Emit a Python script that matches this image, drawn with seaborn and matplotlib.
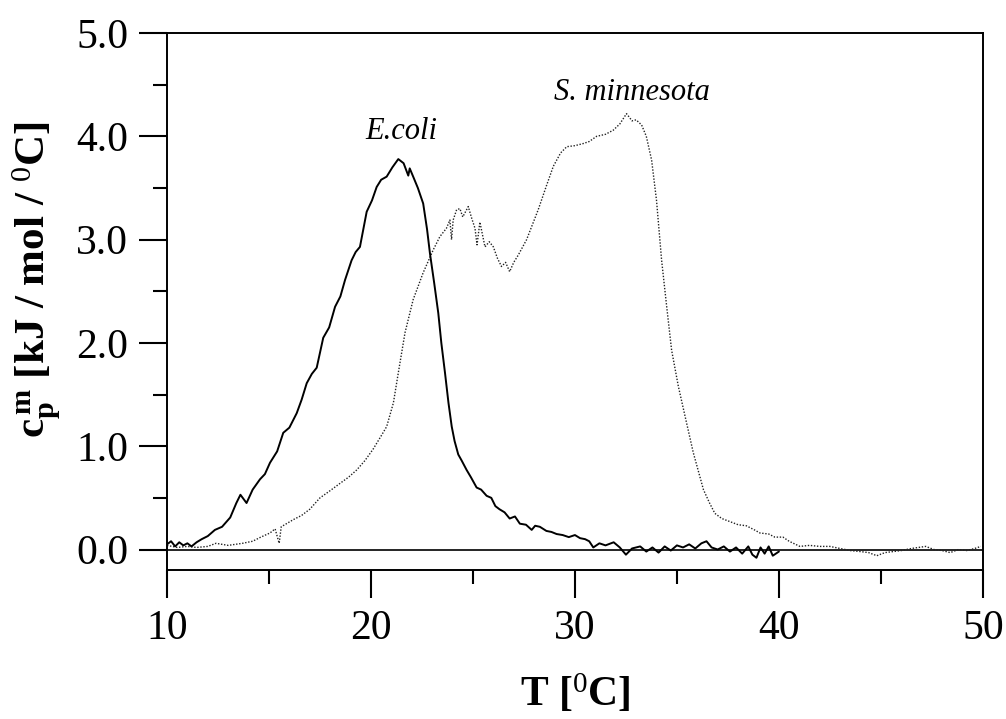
import matplotlib
matplotlib.use("Agg")
import matplotlib.pyplot as plt
import seaborn as sns
import pandas as pd
from matplotlib.ticker import MultipleLocator

# ---- data ----
ecoli_T = [10.0, 10.2, 10.4, 10.6, 10.8, 11.0, 11.2, 11.45, 11.7, 12.0, 12.35, 12.7, 13.1, 13.4, 13.6,
           13.9, 14.2, 14.56, 14.8, 15.05, 15.4, 15.7, 16.0, 16.36, 16.6, 16.85, 17.1, 17.34, 17.66,
           17.95, 18.24, 18.5, 18.73, 19.05, 19.25, 19.46, 19.79, 20.05, 20.28, 20.5, 20.77, 21.05,
           21.34, 21.6, 21.83, 21.9, 22.07, 22.3, 22.56, 22.75, 22.89, 23.1, 23.3, 23.45, 23.63, 23.8,
           23.96, 24.1, 24.28, 24.45, 24.69, 24.9, 25.18, 25.4, 25.67, 25.9, 26.1, 26.3, 26.55, 26.8,
           27.06, 27.3, 27.6, 27.88, 28.05, 28.28, 28.6, 28.85, 29.1, 29.4, 29.7, 30.0, 30.25, 30.5,
           30.7, 30.9, 31.2, 31.5, 31.9, 32.2, 32.5, 32.8, 33.2, 33.5, 33.8, 34.1, 34.4, 34.7, 35.0,
           35.3, 35.6, 35.9, 36.2, 36.45, 36.7, 37.0, 37.3, 37.6, 37.9, 38.2, 38.5, 38.7, 38.9, 39.1,
           39.3, 39.5, 39.7, 40.0]
ecoli_cp = [0.05, 0.08, 0.03, 0.07, 0.04, 0.06, 0.03, 0.07, 0.10, 0.13, 0.19, 0.22, 0.31, 0.45, 0.53,
            0.45, 0.58, 0.68, 0.73, 0.84, 0.95, 1.13, 1.18, 1.32, 1.45, 1.61, 1.70, 1.76, 2.05,
            2.15, 2.35, 2.45, 2.61, 2.80, 2.88, 2.93, 3.27, 3.38, 3.51, 3.58, 3.61, 3.70,
            3.78, 3.74, 3.62, 3.69, 3.61, 3.50, 3.35, 3.10, 2.87, 2.58, 2.29, 2.00, 1.71, 1.42,
            1.19, 1.05, 0.92, 0.86, 0.77, 0.70, 0.60, 0.58, 0.52, 0.50, 0.42, 0.39, 0.36, 0.30,
            0.32, 0.25, 0.24, 0.19, 0.23, 0.22, 0.18, 0.17, 0.15, 0.14, 0.12, 0.14, 0.11, 0.10,
            0.08, 0.02, 0.06, 0.04, 0.07, 0.02, -0.05, 0.01, 0.03, -0.02, 0.02, -0.03, 0.03, -0.01, 0.04,
            0.02, 0.05, 0.01, 0.06, 0.08, 0.02, 0.00, 0.03, -0.02, 0.02, -0.04, 0.03, -0.05, -0.08, 0.02,
            -0.04, 0.03, -0.06, -0.02]

smin_T = [10.0, 10.5, 11.0, 11.45, 12.0, 12.4, 13.0, 13.7, 14.2, 14.6, 15.05, 15.3, 15.5, 15.6, 16.2,
          16.6, 17.0, 17.5, 18.0, 18.48, 18.9, 19.3, 19.7, 20.1, 20.5, 20.77, 21.1, 21.34, 21.67,
          22.07, 22.56, 23.05, 23.38, 23.7, 23.87, 23.95, 24.03, 24.2, 24.36, 24.5, 24.77, 24.95,
          25.1, 25.2, 25.34, 25.59, 25.8, 26.0, 26.2, 26.4, 26.6, 26.8, 27.0, 27.22, 27.63, 28.2,
          28.6, 28.94, 29.3, 29.6, 30.0, 30.4, 30.7, 31.06, 31.5, 31.88, 32.2, 32.53, 32.8, 33.0,
          33.27, 33.5, 33.76, 34.0, 34.25, 34.5, 34.74, 35.07, 35.4, 35.8, 36.3, 36.6, 36.86, 37.2,
          37.6, 38.0, 38.4, 38.8, 39.07, 39.5, 39.8, 40.2, 40.5, 41.03, 41.5, 42.0, 42.5, 43.0,
          43.5, 44.0, 44.4, 44.8, 45.2, 45.6, 46.0, 46.5, 47.2, 47.6, 48.0, 48.4, 48.8, 49.2,
          49.6, 49.9]
smin_cp = [0.04, 0.02, 0.03, 0.02, 0.03, 0.06, 0.04, 0.06, 0.08, 0.12, 0.16, 0.20, 0.06, 0.22, 0.29,
           0.33, 0.39, 0.50, 0.57, 0.64, 0.70, 0.77, 0.86, 0.97, 1.10, 1.19, 1.42, 1.71, 2.10,
           2.42, 2.68, 2.90, 3.03, 3.11, 3.19, 3.00, 3.19, 3.29, 3.30, 3.22, 3.32, 3.20,
           3.11, 2.95, 3.17, 2.93, 2.98, 2.93, 2.82, 2.74, 2.78, 2.69, 2.78, 2.85, 3.00, 3.29,
           3.52, 3.71, 3.84, 3.90, 3.91, 3.93, 3.95, 4.00, 4.02, 4.06, 4.12, 4.22, 4.15, 4.16,
           4.11, 4.00, 3.77, 3.38, 2.80, 2.35, 1.93, 1.58, 1.29, 0.94, 0.58, 0.45, 0.35, 0.30,
           0.27, 0.24, 0.23, 0.19, 0.16, 0.15, 0.12, 0.12, 0.08, 0.03, 0.04, 0.03, 0.03, 0.01,
           -0.01, -0.02, -0.03, -0.06, -0.03, -0.02, -0.01, 0.01, 0.03, 0.00, -0.01, -0.03, 0.00, -0.01,
           0.01, 0.03]

x_ticks = [10, 20, 30, 40, 50]
y_ticks = [0.0, 1.0, 2.0, 3.0, 4.0, 5.0]
labels = {"ecoli": "E.coli", "smin": "S. minnesota"}

assert len(ecoli_T) == len(ecoli_cp)
assert len(smin_T) == len(smin_cp)

sns.set_theme(style="ticks")
plt.rcParams["font.family"] = ["Liberation Serif", "DejaVu Serif"]
plt.rcParams["mathtext.fontset"] = "custom"
plt.rcParams["mathtext.rm"] = "Liberation Serif"
plt.rcParams["mathtext.it"] = "Liberation Serif:italic"
plt.rcParams["mathtext.bf"] = "Liberation Serif:bold"
for key in ["text.color", "axes.labelcolor", "xtick.color", "ytick.color", "axes.edgecolor"]:
    plt.rcParams[key] = "black"

df_e = pd.DataFrame({"T": ecoli_T, "cp": ecoli_cp})
df_s = pd.DataFrame({"T": smin_T, "cp": smin_cp})

fig = plt.figure(figsize=(10.06, 7.19), dpi=100)
ax = fig.add_axes([0.166, 0.207, 0.811, 0.747])

ax.axhline(0.0, color="black", lw=1.2, zorder=1)
sns.lineplot(data=df_s, x="T", y="cp", ax=ax, color="#222222", lw=1.0,
             linestyle=(0, (1.0, 1.2)), sort=False, zorder=2)
sns.lineplot(data=df_e, x="T", y="cp", ax=ax, color="black", lw=1.4, sort=False, zorder=3)

ax.set_xlim(10, 50)
ax.set_ylim(-0.2, 5.0)
ax.set_xticks(x_ticks)
ax.set_yticks(y_ticks)
ax.set_xticklabels([str(v) for v in x_ticks])
ax.set_yticklabels([f"{v:.1f}" for v in y_ticks])
ax.xaxis.set_minor_locator(MultipleLocator(5))
ax.yaxis.set_minor_locator(MultipleLocator(0.5))

ax.tick_params(which="major", direction="out", length=20, width=1.5, labelsize=30, pad=8,
               top=False, right=False, colors="black")
ax.tick_params(which="minor", direction="out", length=10, width=1.5, top=False, right=False)
for s in ax.spines.values():
    s.set_linewidth(1.4)
    s.set_color("black")

ax.set_xlabel(r"T [$^0$C]", fontsize=30, fontweight="bold", labelpad=18)
ax.set_ylabel(r"$\mathbf{c_p^{\,m}}$ [kJ / mol / $^0$C]", fontsize=31,
              fontweight="bold")
ax.yaxis.set_label_coords(-0.128, 0.54)

ax.text(21.5, 3.97, labels["ecoli"], fontsize=22, style="italic", ha="center", va="baseline")
ax.text(32.8, 4.35, labels["smin"], fontsize=22, style="italic", ha="center", va="baseline")

fig.savefig("out.png", dpi=100)
